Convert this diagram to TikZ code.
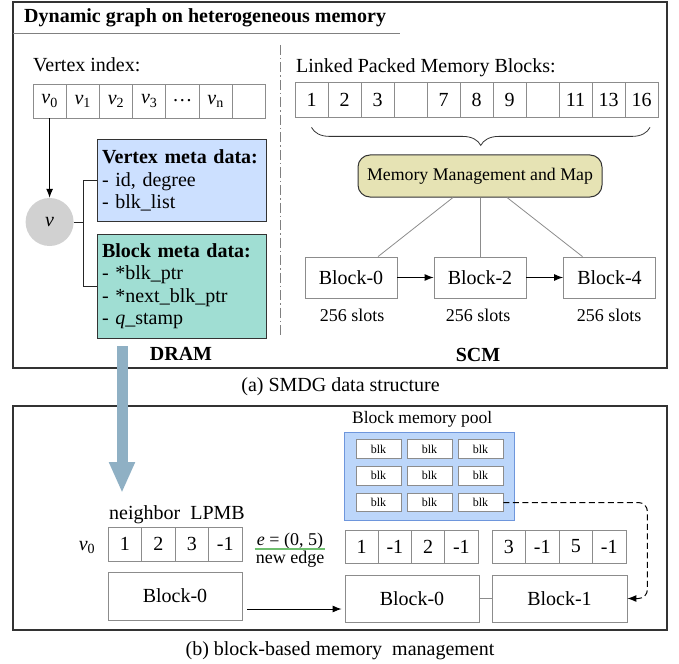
\documentclass[tikz,border=0pt]{standalone}
\usepackage{fontspec}
\setmainfont{Liberation Serif}
\usepackage{tikz}
\usetikzlibrary{arrows.meta,positioning,calc,decorations.pathreplacing}
\definecolor{vmetablue}{RGB}{204,224,255}
\definecolor{bmetateal}{RGB}{160,222,211}
\definecolor{mapkhaki}{RGB}{230,227,180}
\definecolor{poolblue}{RGB}{188,214,250}
\definecolor{pooledge}{RGB}{110,150,220}
\definecolor{flowblue}{RGB}{143,176,196}
\definecolor{edgegreen}{RGB}{110,190,110}
\newcommand{\vx}[1]{\textit{v}\textsubscript{#1}}

\begin{document}
\begin{tikzpicture}[x=1pt,y=-1pt,
 font=\fontsize{20}{22.5}\selectfont,
 frame/.style={draw=black!80,line width=1.2pt},
 cell/.style={draw=black!45,line width=0.8pt,minimum width=33.2pt,minimum height=34pt,inner sep=0pt},
 blkbox/.style={draw=black!45,line width=0.8pt,inner sep=0pt,minimum width=92pt,minimum height=41pt},
 meta/.style={draw=black!80,line width=1pt,align=left,inner xsep=5pt,inner ysep=5pt,text width=159pt},
 poolblk/.style={draw=black!45,line width=0.8pt,fill=white,minimum width=45pt,minimum height=18.5pt,inner sep=0pt,font=\fontsize{12}{13}\selectfont},
 small/.style={font=\fontsize{18}{20}\selectfont},
 bold/.style={font=\fontsize{20}{22}\selectfont\bfseries},
 arr/.style={-{Latex[length=9pt,width=7pt]},line width=1pt}]
 \useasboundingbox (0,0) rectangle (679,663);
 % (a) SMDG data structure
 \draw[frame] (13,2) rectangle (667,368);
 \node[bold,anchor=base west,inner sep=0pt] (title) at (24,23) {Dynamic graph on heterogeneous memory};
 \draw[black!50,line width=0.8pt] (13,33) -- (400,33);
 \draw[black!50,line width=1pt,dash pattern=on 10pt off 3pt on 1.5pt off 3pt] (280,45) -- (280,337);
 \node[anchor=base west,inner sep=0pt] (vidx) at (33,72) {Vertex index:};
 \foreach \t [count=\i] in {\vx{0},\vx{1},\vx{2},\vx{3},\dots,\vx{n},{}}
  \node[cell] (vi\i) at ({49.6+33.2*(\i-1)},101) {\t};
 \node[circle,fill=black!18,minimum size=48pt,inner sep=0pt] (vtx) at (49.6,222) {\textit{v}};
 \node[meta,fill=vmetablue,minimum height=81pt] (vmeta) at (181.5,180.5) {\textbf{Vertex meta data:}\\- id, degree\\- blk\_list};
 \node[meta,fill=bmetateal,minimum height=104pt] (bmeta) at (181.5,286) {\textbf{Block meta data:}\\- *blk\_ptr\\- *next\_blk\_ptr\\- \textit{q}\_stamp};
 \draw[arr] (vi1) -- (vtx);
 \draw[line width=1pt,black!85] (vmeta.west) -- ++(-13,0) |- (bmeta.west);
 \draw[line width=1pt,black!85] (vtx.east) -- ++(10.4,0);
 \node[bold,anchor=base] (dram) at (181,360) {DRAM};
 \node[anchor=base west,inner sep=0pt] (lpmb) at (296,73) {Linked Packed Memory Blocks:};
 \foreach \t [count=\i] in {1,2,3,{},7,8,9,{},11,13,16}
  \node[cell,minimum width=33pt,minimum height=35pt] (lp\i) at ({311.5+33*(\i-1)},99.5) {\t};
 \draw[black!80,line width=0.8pt,decorate,decoration={brace,mirror,amplitude=18pt}] ([yshift=-10pt]lp1.south) -- ([xshift=8.5pt,yshift=-10pt]lp11.south);
 \node[draw=black!80,line width=1pt,fill=mapkhaki,rounded corners=12pt,minimum width=244pt,minimum height=42pt,inner sep=0pt,font=\fontsize{17.8}{20}\selectfont] (mmm) at (480,176) {Memory Management and Map};
 \node[blkbox] (tb0) at (351,277.5) {Block-0};
 \node[blkbox] (tb2) at (480,277.5) {Block-2};
 \node[blkbox] (tb4) at (609.5,277.5) {Block-4};
 \draw[black!45,line width=0.8pt] ([xshift=-27pt]mmm.south) -- ([xshift=27pt]tb0.north);
 \draw[black!45,line width=0.8pt] (mmm.south) -- (tb2.north);
 \draw[black!45,line width=0.8pt] ([xshift=27pt]mmm.south) -- ([xshift=-27pt]tb4.north);
 \draw[arr] (tb0) -- (tb2); \draw[arr] (tb2) -- (tb4);
 \node[small,anchor=base] (sl0) at (352,321) {256 slots};
 \node[small,anchor=base] (sl2) at (478,321) {256 slots};
 \node[small,anchor=base] (sl4) at (609,321) {256 slots};
 \node[bold,anchor=base] (scm) at (478,361) {SCM};
 \node[anchor=base,inner sep=0pt] (capa) at (340.5,391) {(a) SMDG data structure};
 % (b) block-based memory management
 \draw[frame] (13,406) rectangle (667,630);
 \coordinate (flowtop) at (122,346);
 \coordinate (flowend) at (122,493);
 \draw[flowblue,line width=11pt,-{Triangle[length=31pt,width=24pt]}] (flowtop) -- (flowend);
 \node[anchor=base west,inner sep=0pt] (nblbl) at (109,519) {neighbor\ \ LPMB};
 \node[anchor=base,inner sep=0pt] (v0lbl) at (87,550) {\vx{0}};
 \foreach \t [count=\i] in {1,2,3,-1}
  \node[cell,minimum width=33.5pt] (nb\i) at ({124.75+33.5*(\i-1)},544) {\t};
 \node[blkbox,minimum width=134pt,minimum height=48pt] (blkL) at (175,596) {Block-0};
 \node[small,anchor=base,inner sep=0pt] (elbl) at (290,545) {\textit{e} = (0, 5)};
 \node[small,anchor=base,inner sep=0pt] (nelbl) at (290,563) {new edge};
 \draw[edgegreen,line width=2.5pt] ([xshift=-2pt,yshift=-4pt]elbl.base west) -- ([xshift=2pt,yshift=-4pt]elbl.base east);
 \node[anchor=base west,inner sep=0pt,font=\fontsize{17.5}{20}\selectfont] (poollbl) at (352,423) {Block memory pool};
 \node[draw=pooledge,fill=poolblue,line width=1pt,minimum width=170pt,minimum height=88pt,inner sep=0pt] (pool) at (429,476) {};
 \foreach \r in {1,2,3}
  \foreach \c in {1,2,3}
   \node[poolblk] (bk\r\c) at ({327.5+51*\c},{422.25+26.75*\r}) {blk};
 \foreach \t [count=\i] in {1,-1,2,-1}
  \node[cell,minimum width=33.25pt,minimum height=33pt] (ra\i) at ({361.6+33.25*(\i-1)},546.5) {\t};
 \foreach \t [count=\i] in {3,-1,5,-1}
  \node[cell,minimum width=33.5pt,minimum height=33pt] (rb\i) at ({508.75+33.5*(\i-1)},546.5) {\t};
 \node[blkbox,minimum width=134pt,minimum height=47pt] (blkM) at (412,598.5) {Block-0};
 \node[blkbox,minimum width=135pt,minimum height=47pt] (blk1) at (559.5,598.5) {Block-1};
 \draw[black!45,line width=0.8pt] (blkM) -- (blk1);
 \draw[arr,shorten <=5pt,shorten >=3pt] ([yshift=-13pt]blkL.east) -- ([yshift=-10.5pt]blkM.west);
 \draw[arr,dash pattern=on 6pt off 3.5pt,rounded corners=9pt] (bk33.east) -| ([xshift=20pt]blk1.east) -- (blk1.east);
 \node[anchor=base,inner sep=0pt] (capb) at (340,655) {(b) block-based memory\ \ management};
\end{tikzpicture}
\end{document}
